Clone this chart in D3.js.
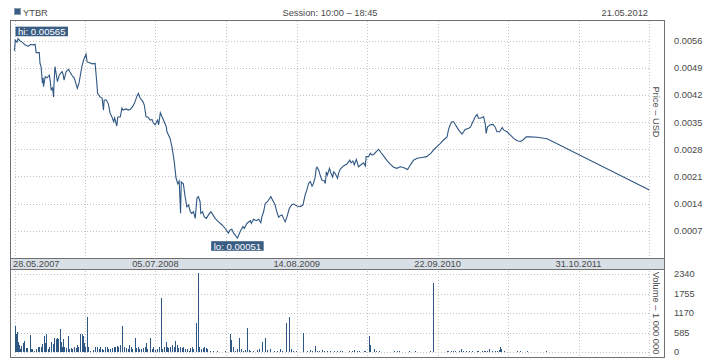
<!DOCTYPE html>
<html><head><meta charset="utf-8">
<script src="https://cdn.jsdelivr.net/npm/d3@7"></script>
<style>body{margin:0;background:#fff}svg{display:block;font-family:"Liberation Sans",Arial,sans-serif}</style>
</head><body><svg id="c" width="718" height="360"></svg>
<script>
const ticker = "YTBR";
const sessionText = "Session: 10:00 \u2013 18:45";
const asOfDate = "21.05.2012";
const priceAxisTitle = "Price \u2013 USD";
const volumeAxisTitle = "Volume \u2013 1 000 000";
const startDate = "2007-05-28";
const priceDays = [0,2,7,10,16,22,30,39,46,53,59,62,71,73,76,80,82,83,88,93,100,102,105,109,112,113,116,119,123,128,136,139,142,148,155,159,167,171,177,180,185,193,198,205,208,215,223,231,236,238,245,251,255,257,263,269,274,279,284,287,293,296,303,308,311,320,326,332,339,344,351,355,360,368,372,377,382,389,394,398,403,410,413,418,424,429,435,437,446,452,458,463,468,472,476,478,484,489,494,499,504,508,513,518,523,527,532,534,539,544,550,556,563,569,575,585,595,604,613,618,623,628,633,639,647,655,659,666,676,679,685,693,700,706,709,714,719,725,735,740,747,752,757,762,767,771,776,781,788,795,800,810,819,827,833,838,843,848,853,857,862,865,867,872,876,881,888,891,894,897,903,907,912,915,919,926,929,934,943,953,961,965,970,974,980,986,996,1001,1006,1008,1015,1020,1025,1031,1037,1044,1051,1058,1068,1077,1087,1096,1106,1115,1127,1135,1144,1154,1168,1182,1187,1194,1201,1211,1221,1230,1240,1244,1249,1254,1259,1264,1273,1283,1292,1302,1307,1314,1321,1326,1330,1335,1340,1345,1350,1352,1356,1364,1372,1378,1383,1391,1398,1402,1412,1421,1431,1441,1450,1458,1467,1479,1498,1527,1820];
const prices = [0.00533,0.00561,0.00556,0.00565,0.00559,0.00556,0.00549,0.00545,0.00550,0.00549,
0.00550,0.00529,0.00529,0.00501,0.00493,0.00450,0.00464,0.00441,0.00467,0.00464,
0.00471,0.00458,0.00433,0.00438,0.00415,0.00446,0.00493,0.00476,0.00454,0.00471,
0.00480,0.00474,0.00458,0.00480,0.00486,0.00479,0.00467,0.00464,0.00446,0.00437,
0.00451,0.00493,0.00510,0.00525,0.00505,0.00503,0.00500,0.00501,0.00450,0.00424,
0.00415,0.00412,0.00381,0.00407,0.00407,0.00397,0.00373,0.00364,0.00351,0.00361,
0.00340,0.00363,0.00363,0.00386,0.00381,0.00384,0.00381,0.00383,0.00391,0.00399,
0.00417,0.00424,0.00412,0.00403,0.00394,0.00364,0.00363,0.00355,0.00357,0.00348,
0.00343,0.00355,0.00343,0.00374,0.00362,0.00351,0.00338,0.00325,0.00308,0.00283,
0.00247,0.00206,0.00191,0.00198,0.00115,0.00196,0.00191,0.00158,0.00132,0.00137,
0.00119,0.00115,0.00119,0.00102,0.00154,0.00158,0.00145,0.00115,0.00119,0.00106,
0.00102,0.00111,0.00119,0.00111,0.00102,0.00093,0.00085,0.00076,0.00064,0.00072,
0.00074,0.00064,0.00059,0.00051,0.00068,0.00081,0.00076,0.00089,0.00096,0.00089,
0.00100,0.00096,0.00100,0.00091,0.00106,0.00119,0.00141,0.00145,0.00158,0.00149,
0.00137,0.00119,0.00105,0.00109,0.00111,0.00102,0.00093,0.00106,0.00128,0.00137,
0.00139,0.00134,0.00132,0.00137,0.00162,0.00175,0.00192,0.00197,0.00185,0.00192,
0.00209,0.00231,0.00234,0.00227,0.00214,0.00201,0.00199,0.00192,0.00222,0.00214,
0.00231,0.00219,0.00209,0.00222,0.00218,0.00205,0.00218,0.00229,0.00237,0.00242,
0.00252,0.00245,0.00250,0.00240,0.00254,0.00235,0.00242,0.00245,0.00237,0.00261,
0.00261,0.00270,0.00265,0.00268,0.00274,0.00280,0.00271,0.00263,0.00251,0.00242,
0.00234,0.00231,0.00235,0.00233,0.00228,0.00240,0.00252,0.00257,0.00259,0.00261,
0.00265,0.00270,0.00278,0.00287,0.00295,0.00304,0.00312,0.00330,0.00343,0.00351,
0.00351,0.00343,0.00330,0.00319,0.00331,0.00334,0.00337,0.00351,0.00364,0.00370,
0.00360,0.00360,0.00362,0.00364,0.00343,0.00321,0.00338,0.00343,0.00344,0.00337,
0.00325,0.00325,0.00336,0.00330,0.00325,0.00317,0.00308,0.00302,0.00300,0.00304,
0.00312,0.00312,0.00311,0.00307,0.00175];
const volumeDays = [0,3,7,9,13,16,19,23,28,32,
37,43,47,51,56,62,67,71,75,80,
85,88,91,95,100,104,109,112,114,118,
121,123,126,129,133,136,139,142,147,152,
157,161,166,171,176,180,183,188,193,196,
200,202,209,212,217,226,231,236,241,245,
250,255,260,265,269,274,279,284,289,293,
296,303,309,314,319,324,329,334,338,344,
349,353,358,363,368,373,377,381,387,394,
398,403,408,413,420,424,429,433,437,441,
446,451,456,461,465,470,475,480,484,489,
494,499,504,508,513,519,525,529,534,539,
544,549,553,561,570,580,590,602,618,621,
626,631,638,644,649,654,661,666,671,676,
685,695,702,709,717,724,733,743,752,760,
767,778,786,792,798,808,827,838,846,853,
862,867,872,881,886,896,905,915,924,934,
939,958,968,972,982,989,1001,1006,1017,1020,
1031,1037,1044,1087,1096,1101,1130,1149,1190,1199,
1240,1244,1251,1257,1264,1273,1281,1287,1294,1302,
1312,1326,1330,1340,1345,1350,1354,1359,1369,1378,
1383,1388,1393,1396,1404,1441,1450,1468,1525];
const volumes = [780,540,610,310,210,90,180,260,340,120,
120,510,80,80,40,80,160,140,140,240,
480,280,540,80,140,310,240,380,410,380,
310,410,380,690,310,160,390,140,120,480,
80,120,80,140,120,210,140,540,540,480,
260,140,1040,140,40,60,140,140,80,140,
80,60,140,140,80,80,120,140,140,180,
140,210,780,140,120,80,210,140,80,410,
120,140,80,80,120,140,280,80,410,80,
140,60,80,140,1610,80,140,310,140,120,
140,210,140,340,210,120,140,120,140,80,
80,40,120,140,80,880,2380,140,80,120,
140,120,80,40,20,20,15,40,540,360,
140,40,80,410,80,40,60,710,60,40,
40,60,80,310,410,60,80,40,40,80,
40,880,1040,80,40,40,580,40,60,40,
180,40,40,60,40,40,40,40,40,40,
40,40,40,60,40,40,40,40,480,210,
80,40,40,40,40,40,40,40,40,2080,
40,40,40,40,40,40,90,40,40,40,
40,40,40,40,40,40,40,90,40,40,
40,60,150,80,40,40,40,40,40];
const gridDates = ["2007-05-28","2007-12-16","2008-07-05","2009-01-23","2009-08-14","2010-03-04","2010-09-22","2011-04-12","2011-10-31","2012-05-20"];
const dateLabels = ["28.05.2007","05.07.2008","14.08.2009","22.09.2010","31.10.2011"];
const priceTicks = [0.0007,0.0014,0.0021,0.0028,0.0035,0.0042,0.0049,0.0056];
const volumeTicks = [0,585,1170,1755,2340];

const C = {line:"#2f5783", text:"#4a4a4a", frame:"#707070", grid:"#c4c4c4", band:"#d8dfe6", box:"#3a5d84"};
const L = 10, R = 664, T = 20, PB = 258, BB = 270, VB = 357;
const FONT = 9.3;

const parseISO = d3.timeParse("%Y-%m-%d");
const parseDMY = d3.timeParse("%d.%m.%Y");
const start = parseISO(startDate);
const priceData = priceDays.map((d, i) => ({date: d3.timeDay.offset(start, d), v: prices[i]}));
const volData = volumeDays.map((d, i) => ({date: d3.timeDay.offset(start, d), v: volumes[i]}));

const x = d3.scaleTime().domain([parseISO("2007-05-15"), parseISO("2012-07-02")]).range([L, R]);
const y = d3.scaleLinear().domain([0, 0.00613]).range([PB, T]);
const yv = d3.scaleLinear().domain([0, 2340]).range([352, 274]);

const svg = d3.select("#c");
const gx0 = x(parseISO(gridDates[0])), gx1 = x(parseISO(gridDates[gridDates.length - 1]));

// header
svg.append("rect").attr("x", 14.5).attr("y", 8.5).attr("width", 6).attr("height", 6)
  .attr("fill", C.box).attr("stroke", "#8a9bb0").attr("stroke-width", 1);
svg.append("text").attr("x", 23).attr("y", 15.5).attr("font-size", FONT).attr("fill", C.text).text(ticker);
svg.append("text").attr("x", 330).attr("y", 15.5).attr("text-anchor", "middle").attr("font-size", FONT).attr("fill", C.text).text(sessionText);
svg.append("text").attr("x", 648).attr("y", 15.5).attr("text-anchor", "end").attr("font-size", FONT).attr("fill", C.text).text(asOfDate);

// date band
svg.append("rect").attr("x", L).attr("y", PB).attr("width", R - L).attr("height", BB - PB).attr("fill", C.band);

// grids
const grid = svg.append("g").attr("stroke", C.grid).attr("stroke-dasharray", "1,2").attr("shape-rendering", "crispEdges");
gridDates.forEach(s => {
  const gx = Math.round(x(parseISO(s))) + 0.5;
  grid.append("line").attr("x1", gx).attr("x2", gx).attr("y1", T + 1).attr("y2", PB);
  grid.append("line").attr("x1", gx).attr("x2", gx).attr("y1", BB + 1).attr("y2", VB);
});
priceTicks.forEach(t => {
  const gy = Math.round(y(t)) + 0.5;
  grid.append("line").attr("x1", gx0).attr("x2", gx1).attr("y1", gy).attr("y2", gy);
});
volumeTicks.forEach(t => {
  const gy = Math.round(yv(t)) + 0.5;
  grid.append("line").attr("x1", gx0).attr("x2", gx1).attr("y1", gy).attr("y2", gy);
});

// price axis (right)
const ay = svg.append("g").attr("transform", `translate(${R},0)`)
  .call(d3.axisRight(y).tickValues(priceTicks).tickSize(0).tickPadding(10).tickFormat(d3.format(".4f")));
ay.select(".domain").remove();
ay.selectAll("text").attr("font-size", FONT).attr("fill", C.text).attr("font-family", null);

const av = svg.append("g").attr("transform", `translate(${R},0)`)
  .call(d3.axisRight(yv).tickValues(volumeTicks).tickSize(0).tickPadding(10).tickFormat(d3.format("d")));
av.select(".domain").remove();
av.selectAll("text").attr("font-size", FONT).attr("fill", C.text).attr("font-family", null);

svg.append("text").attr("transform", "translate(653,112) rotate(90)").attr("text-anchor", "middle")
  .attr("font-size", FONT).attr("fill", C.text).text(priceAxisTitle);
svg.append("text").attr("transform", "translate(653,313) rotate(90)").attr("text-anchor", "middle")
  .attr("font-size", FONT).attr("fill", C.text).text(volumeAxisTitle);

// date labels
dateLabels.forEach((s, i) => {
  const dx = x(parseDMY(s));
  svg.append("text").attr("x", i === 0 ? 13 : dx).attr("y", 267)
    .attr("text-anchor", i === 0 ? "start" : "middle")
    .attr("font-size", FONT).attr("fill", C.text).text(s);
});

// volume bars
svg.append("g").attr("fill", C.line).attr("shape-rendering", "crispEdges")
  .selectAll("rect").data(volData).join("rect")
  .attr("x", d => Math.round(x(d.date)))
  .attr("width", 1)
  .attr("y", d => yv(d.v))
  .attr("height", d => yv(0) - yv(d.v));

// price line
svg.append("path").datum(priceData)
  .attr("fill", "none").attr("stroke", C.line).attr("stroke-width", 1.1)
  .attr("d", d3.line().x(d => x(d.date)).y(d => y(d.v)));

// hi / lo labels
const hi = priceData.reduce((a, b) => b.v > a.v ? b : a);
const lo = priceData.reduce((a, b) => b.v < a.v ? b : a);
function tag(p, txt, above) {
  const g = svg.append("g");
  const t = g.append("text").attr("font-size", 9.6).attr("fill", "#fff").text(txt);
  const w = t.node().getComputedTextLength() + 5;
  let bx = x(p.date) - w / 2;
  bx = Math.max(bx, L + 5.5);
  const by = above ? y(p.v) - 12 : y(p.v) + 3;
  g.insert("rect", "text").attr("x", bx).attr("y", by).attr("width", w).attr("height", 9.6).attr("fill", C.box);
  t.attr("x", bx + 2.5).attr("y", by + 8.4);
}
tag(hi, "hi: " + d3.format(".5f")(hi.v), true);
tag(lo, "lo: " + d3.format(".5f")(lo.v), false);

// frame
const fr = svg.append("g").attr("fill", "none").attr("stroke", C.frame).attr("shape-rendering", "crispEdges");
fr.append("rect").attr("x", L + 0.5).attr("y", T + 0.5).attr("width", R - L).attr("height", VB - T);
fr.append("line").attr("x1", L).attr("x2", R).attr("y1", PB + 0.5).attr("y2", PB + 0.5);
fr.append("line").attr("x1", L).attr("x2", R).attr("y1", BB - 0.5).attr("y2", BB - 0.5).attr("stroke-width", 1.5);
</script></body></html>
